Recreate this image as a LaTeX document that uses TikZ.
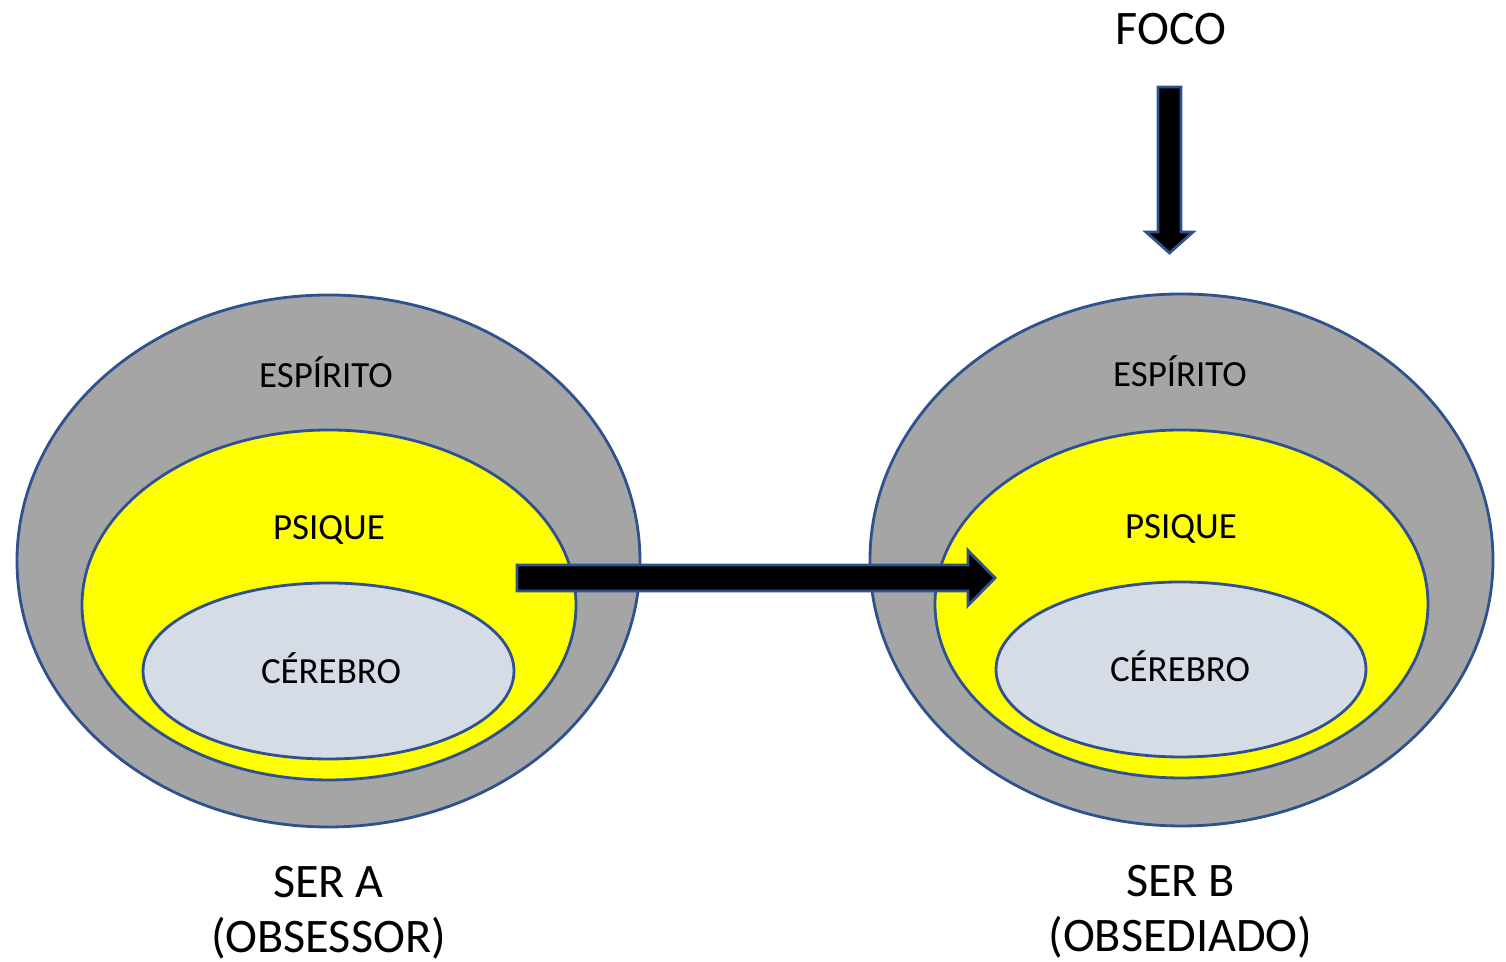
\documentclass[tikz,border=0pt]{standalone}
\usepackage{fontspec}
\setmainfont{Carlito}
\usetikzlibrary{shapes.geometric,calc}
\definecolor{rim}{HTML}{2F528F}
\definecolor{spirit}{HTML}{A5A5A5}
\definecolor{psyche}{HTML}{FFFF00}
\definecolor{brain}{HTML}{D6DCE5}
\begin{document}
\begin{tikzpicture}[x=1cm, y=1cm,
    every node/.style={font=\fontsize{10.5}{12.5}\selectfont},
    layer/.style={ellipse, draw=rim, line width=0.8pt, inner sep=0pt},
    caption/.style={align=center, font=\fontsize{13.7}{15.6}\selectfont},
    blockarrow/.style={draw=rim, line width=0.8pt, fill=black}]
    \useasboundingbox (0,0) rectangle (15.06,9.62);
    % ser A
    \node[layer, fill=spirit, minimum width=6.23cm, minimum height=5.32cm] (espA) at (3.285,4.01) {};
    \node[layer, fill=psyche, minimum width=4.94cm, minimum height=3.50cm] (psiA) at (3.29,3.57) {};
    \node[layer, fill=brain, minimum width=3.71cm, minimum height=1.76cm] (cerA) at (3.285,2.91) {};
    \node (tespA) at (3.26,5.90) {ESPÍRITO};
    \node (tpsiA) at (3.29,4.32) {PSIQUE};
    \node (tcerA) at (3.31,2.94) {CÉREBRO};
    \node[caption] (serA) at (3.285,0.49) {SER A\\(OBSESSOR)};
    % ser B
    \node[layer, fill=spirit, minimum width=6.23cm, minimum height=5.32cm] (espB) at (11.815,4.02) {};
    \node[layer, fill=psyche, minimum width=4.93cm, minimum height=3.48cm] (psiB) at (11.815,3.58) {};
    \node[layer, fill=brain, minimum width=3.70cm, minimum height=1.75cm] (cerB) at (11.81,2.925) {};
    \node (tespB) at (11.80,5.91) {ESPÍRITO};
    \node (tpsiB) at (11.81,4.33) {PSIQUE};
    \node (tcerB) at (11.80,2.96) {CÉREBRO};
    \node[caption] (serB) at (11.805,0.50) {SER B\\(OBSEDIADO)};
    % foco
    \node[caption] (foco) at (11.71,9.33) {FOCO};
    % arrows
    \coordinate (hs) at (5.17,3.84);
    \coordinate (ht) at (9.95,3.84);
    \draw[blockarrow] ($(hs)+(0,0.13)$) -- ($(ht)+(-0.27,0.13)$) -- ($(ht)+(-0.27,0.275)$)
        -- (ht) -- ($(ht)+(-0.27,-0.275)$) -- ($(ht)+(-0.27,-0.13)$) -- ($(hs)+(0,-0.13)$) -- cycle;
    \coordinate (vs) at (11.695,8.75);
    \coordinate (vt) at (11.695,7.09);
    \draw[blockarrow] ($(vs)+(-0.115,0)$) -- ($(vt)+(-0.115,0.21)$) -- ($(vt)+(-0.235,0.21)$)
        -- (vt) -- ($(vt)+(0.235,0.21)$) -- ($(vt)+(0.115,0.21)$) -- ($(vs)+(0.115,0)$) -- cycle;
\end{tikzpicture}
\end{document}
